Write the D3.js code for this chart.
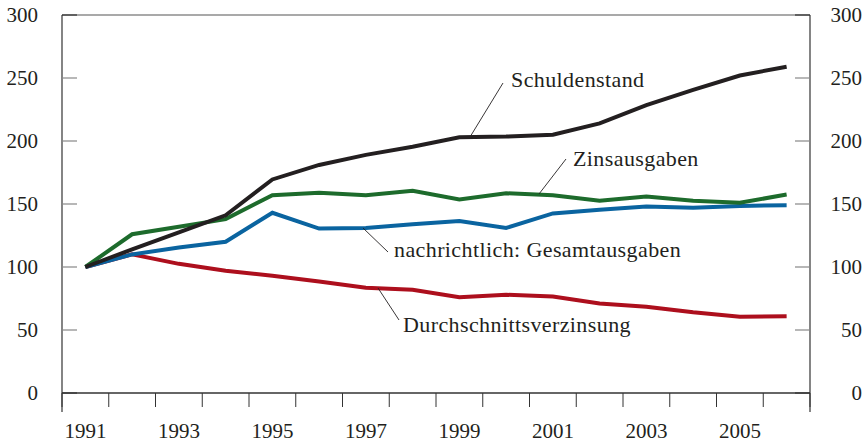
<!DOCTYPE html>
<html>
<head>
<meta charset="utf-8">
<script src="https://cdn.jsdelivr.net/npm/d3@7"></script>
<style>
  body { margin: 0; background: #fff; }
  text { font-family: "Liberation Serif", "DejaVu Serif", serif; fill: #231f20; }
</style>
</head>
<body>
<div id="chart"></div>
<script>
// Index 1991 = 100
const years = d3.range(1991, 2007);
const yearLabels = [1991, 1993, 1995, 1997, 1999, 2001, 2003, 2005];
const yTicks = [0, 50, 100, 150, 200, 250, 300];

const schuldenstand = [100, 114, 127.5, 141, 169.5, 181, 189, 195.5, 203, 203.5, 205, 214, 228.5, 240.5, 252, 259];
const zinsausgaben = [100, 126, 132, 138, 157, 159, 157, 160.5, 153.5, 158.5, 157, 152.5, 156, 152.5, 151, 157.5];
const gesamtausgaben = [100, 110, 115.5, 120, 143, 130.5, 131, 134, 136.5, 131, 142.5, 145.5, 148, 147, 148.5, 149];
const durchschnittsverzinsung = [100, 110, 102.5, 97, 93, 88.5, 83.5, 82, 76, 78, 76.5, 71, 68.5, 64, 60.5, 61];

const series = [
  { name: 'Durchschnittsverzinsung', values: durchschnittsverzinsung, color: '#ad0f1d' },
  { name: 'nachrichtlich: Gesamtausgaben', values: gesamtausgaben, color: '#0a64a0' },
  { name: 'Zinsausgaben', values: zinsausgaben, color: '#1d6b2c' },
  { name: 'Schuldenstand', values: schuldenstand, color: '#231f20' }
];

// label text positions and leader lines
const labels = [
  { name: 'Schuldenstand', x: 511, y: 87, from: [470, 137], to: [503, 83] },
  { name: 'Zinsausgaben', x: 573, y: 166, from: [539, 194], to: [566, 159] },
  { name: 'nachrichtlich: Gesamtausgaben', x: 394, y: 257, from: [363, 228], to: [388, 252] },
  { name: 'Durchschnittsverzinsung', x: 403, y: 332, from: [378, 288], to: [399, 320] }
];

const width = 867, height = 442;
const margin = { top: 15, right: 57, bottom: 49, left: 62 };

const svg = d3.select('#chart').append('svg')
  .attr('width', width).attr('height', height);

const x = d3.scaleBand().domain(years).range([margin.left, width - margin.right]);
const y = d3.scaleLinear().domain([0, 300]).range([height - margin.bottom, margin.top]);
const cx = d => x(d) + x.bandwidth() / 2;

const x0 = margin.left, x1 = width - margin.right;
const y0 = y(0), y1 = y(300);

// frame
svg.append('line').attr('x1', x0).attr('x2', x1).attr('y1', y1).attr('y2', y1)
  .attr('stroke', '#555').attr('stroke-width', 1.2);
svg.append('line').attr('x1', x0).attr('x2', x1).attr('y1', y0).attr('y2', y0)
  .attr('stroke', '#333').attr('stroke-width', 1.3);
[x0, x1].forEach(xx => svg.append('line').attr('x1', xx).attr('x2', xx)
  .attr('y1', y1).attr('y2', y0 + 19).attr('stroke', '#333').attr('stroke-width', 1.2));

// y ticks on both sides
const gy = svg.append('g');
gy.selectAll('.tl').data(yTicks).enter().append('line')
  .attr('x1', x0).attr('x2', x0 + 15).attr('y1', d => y(d)).attr('y2', d => y(d))
  .attr('stroke', d => (d === 0 || d === 300) ? '#333' : '#888').attr('stroke-width', 1.2);
gy.selectAll('.tr').data(yTicks).enter().append('line')
  .attr('x1', x1 - 15).attr('x2', x1).attr('y1', d => y(d)).attr('y2', d => y(d))
  .attr('stroke', d => (d === 0 || d === 300) ? '#333' : '#888').attr('stroke-width', 1.2);
gy.selectAll('.ll').data(yTicks).enter().append('text')
  .attr('x', 38).attr('y', d => y(d) + 7).attr('text-anchor', 'end')
  .style('font-size', '21px').text(d => d);
gy.selectAll('.lr').data(yTicks).enter().append('text')
  .attr('x', 862).attr('y', d => y(d) + 7).attr('text-anchor', 'end')
  .style('font-size', '21px').text(d => d);

// x ticks at band boundaries
const bounds = years.map(d => x(d)).concat([x1]);
svg.append('g').selectAll('line').data(bounds).enter().append('line')
  .attr('x1', d => d).attr('x2', d => d).attr('y1', y0).attr('y2', y0 + 14)
  .attr('stroke', '#333').attr('stroke-width', 1);
svg.append('g').selectAll('text').data(yearLabels).enter().append('text')
  .attr('x', d => cx(d)).attr('y', 438).attr('text-anchor', 'middle')
  .style('font-size', '21px').text(d => d);

// lines
const line = d3.line().x((d, i) => cx(years[i])).y(d => y(d));
svg.append('g').selectAll('path').data(series).enter().append('path')
  .attr('d', d => line(d.values))
  .attr('fill', 'none').attr('stroke', d => d.color)
  .attr('stroke-width', 4).attr('stroke-linejoin', 'miter');

// labels with leader lines
const lg = svg.append('g');
lg.selectAll('line').data(labels).enter().append('line')
  .attr('x1', d => d.from[0]).attr('y1', d => d.from[1])
  .attr('x2', d => d.to[0]).attr('y2', d => d.to[1])
  .attr('stroke', '#231f20').attr('stroke-width', 0.9);
lg.selectAll('text').data(labels).enter().append('text')
  .attr('x', d => d.x).attr('y', d => d.y)
  .style('font-size', '22px').style('letter-spacing', '0.4px').text(d => d.name);
</script>
</body>
</html>
